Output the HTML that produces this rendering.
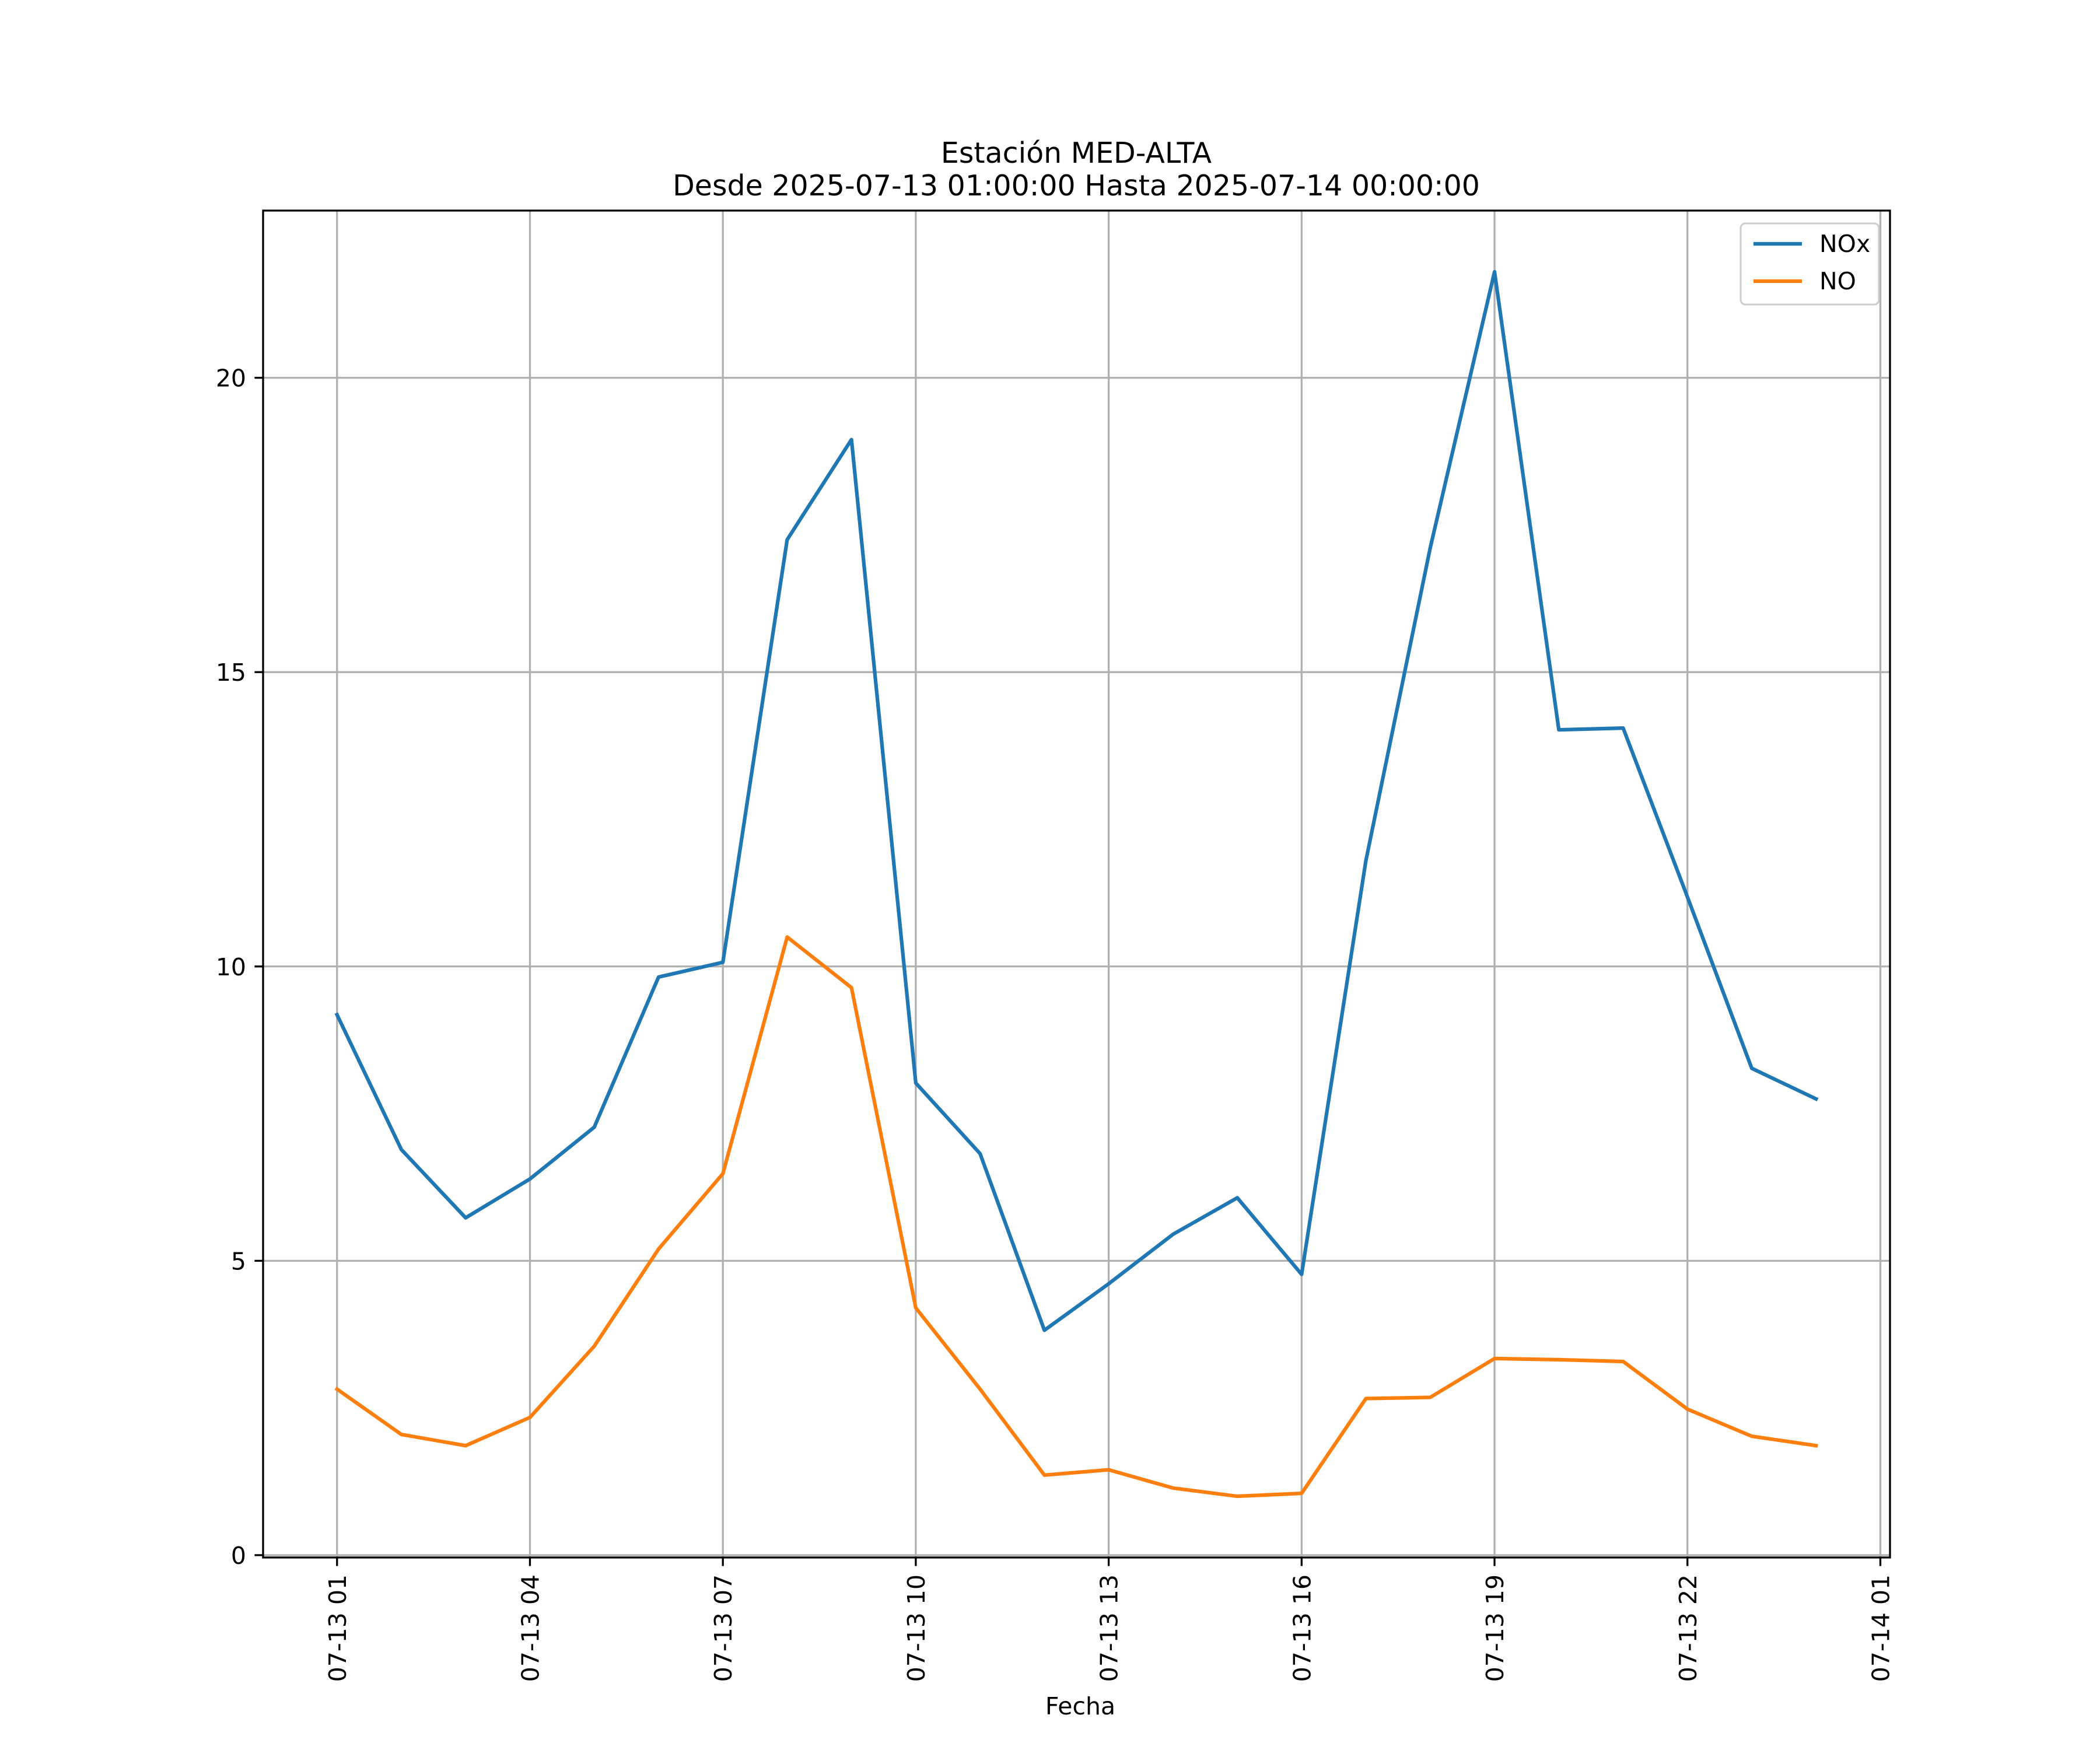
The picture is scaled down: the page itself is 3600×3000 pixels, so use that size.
<!DOCTYPE html>
<html><head><meta charset="utf-8"><style>html,body{margin:0;padding:0;background:#fff}svg{display:block}text{font-family:"DejaVu Sans","Liberation Sans",sans-serif;fill:#000}</style></head>
<body>
<svg id="chart" width="3600" height="3000" viewBox="0 0 3600 3000" xmlns="http://www.w3.org/2000/svg">
<rect width="3600" height="3000" fill="#fff"/>
<text x="1845" y="279" font-size="49" text-anchor="middle">Estación MED-ALTA</text>
<text x="1845" y="335" font-size="49" text-anchor="middle">Desde 2025-07-13 01:00:00 Hasta 2025-07-14 00:00:00</text>
<g id="grid"></g>
<g id="series"></g>
<rect x="451" y="361" width="2789" height="2309" fill="none" stroke="#000" stroke-width="3.3"/>
<g id="axes"></g>
<text x="1852" y="2939" font-size="41" text-anchor="middle">Fecha</text>
<g>
<rect x="2984" y="383" width="237" height="139" rx="8" fill="#fff" fill-opacity="0.8" stroke="#ccc" stroke-width="3"/>
<line x1="3006" y1="418" x2="3089" y2="418" stroke="#1f77b4" stroke-width="6.25"/>
<text x="3119" y="432" font-size="41">NOx</text>
<line x1="3006" y1="482" x2="3089" y2="482" stroke="#ff7f0e" stroke-width="6.25"/>
<text x="3119" y="496" font-size="41">NO</text>
</g>
</svg>
<script>
const hours = [1,2,3,4,5,6,7,8,9,10,11,12,13,14,15,16,17,18,19,20,21,22,23,24];
const noxValues = [9.18,6.89,5.73,6.39,7.27,9.82,10.07,17.25,18.95,8.02,6.82,3.82,4.61,5.45,6.07,4.77,11.8,17.11,21.8,14.02,14.05,11.18,8.27,7.75];
const noValues = [2.82,2.05,1.86,2.34,3.55,5.2,6.48,10.5,9.64,4.2,2.82,1.36,1.45,1.14,1.0,1.05,2.66,2.68,3.34,3.32,3.29,2.48,2.02,1.86];
const yTicks = [0,5,10,15,20];
const xTickHours = [1,4,7,10,13,16,19,22,25];
const xTickLabels = ["07-13 01","07-13 04","07-13 07","07-13 10","07-13 13","07-13 16","07-13 19","07-13 22","07-14 01"];

const L=451,R=3240,T=361,B=2670;
const hMin=-0.15,hMax=25.15,vMin=-0.04,vMax=22.84;
const xS=h=>L+(h-hMin)/(hMax-hMin)*(R-L);
const yS=v=>B-(v-vMin)/(vMax-vMin)*(B-T);
const NS="http://www.w3.org/2000/svg";
function mk(tag,attrs,parent){const e=document.createElementNS(NS,tag);for(const k in attrs)e.setAttribute(k,attrs[k]);parent.appendChild(e);return e;}
const grid=document.getElementById('grid'),axes=document.getElementById('axes'),series=document.getElementById('series');
yTicks.forEach(v=>{
  const y=yS(v);
  const g=mk('line',{x1:L,x2:R,y1:y,y2:y,stroke:'#b0b0b0','stroke-width':3.3},grid);
  
  
  const t=mk('line',{x1:L-14.6,x2:L,y1:y,y2:y,stroke:'#000','stroke-width':3.3},axes);
  
  
  const tx=mk('text',{x:L-29,y:y+15,'font-size':41,'text-anchor':'end'},axes);
  tx.textContent=String(v);
  
  
});
xTickHours.forEach((h,i)=>{
  const x=xS(h);
  const g=mk('line',{x1:x,x2:x,y1:T,y2:B,stroke:'#b0b0b0','stroke-width':3.3},grid);
  
  
  const t=mk('line',{x1:x,x2:x,y1:B,y2:B+14.6,stroke:'#000','stroke-width':3.3},axes);
  
  
  const tx=mk('text',{x:0,y:0,'font-size':41,'text-anchor':'end',transform:`translate(${x+15},${B+29}) rotate(-90)`},axes);
  tx.textContent=xTickLabels[i];
  
  
});
function line(vals,color,name){
  const p=mk('polyline',{points:vals.map((v,i)=>xS(hours[i])+','+yS(v)).join(' '),fill:'none',stroke:color,'stroke-width':6.25,'stroke-linejoin':'round','stroke-linecap':'square'},series);
  
  
}
line(noxValues,'#1f77b4','nox-line');
line(noValues,'#ff7f0e','no-line');
</script>
</body></html>
